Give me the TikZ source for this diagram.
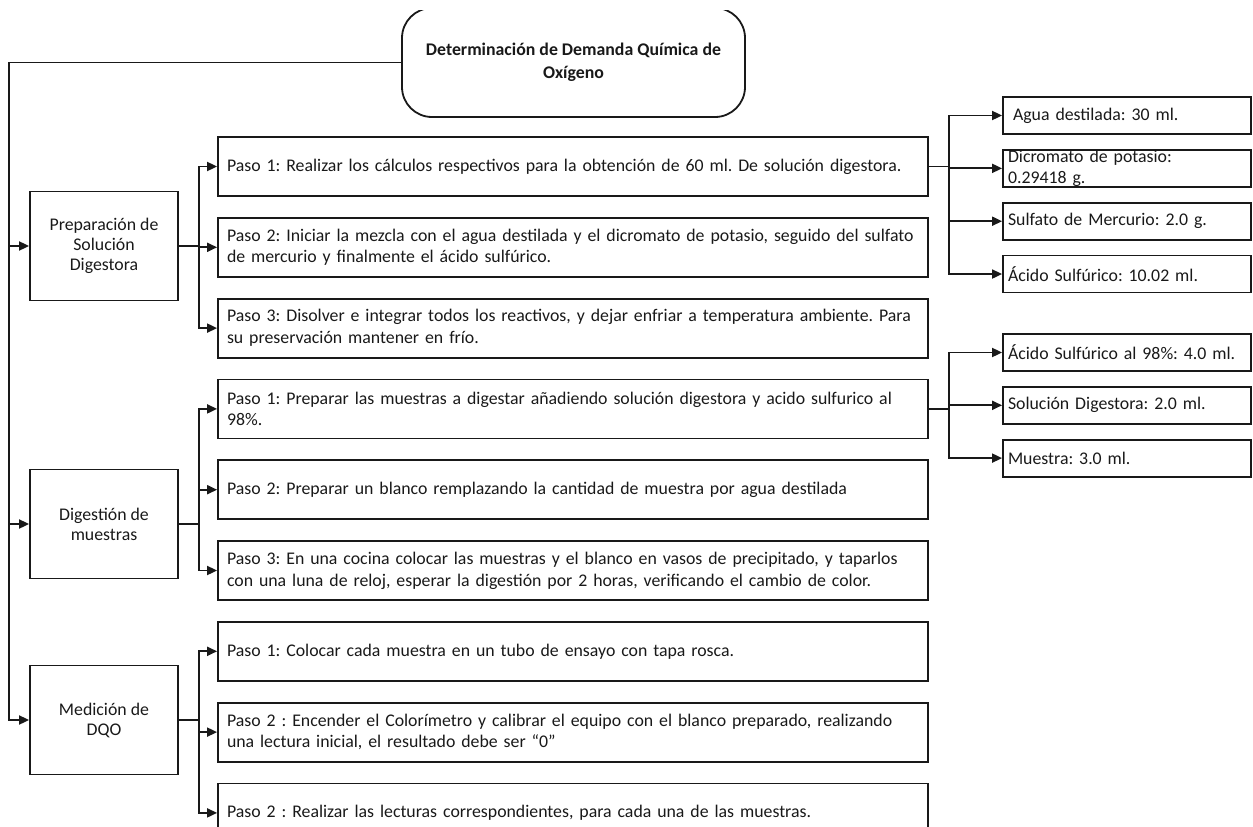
\documentclass[tikz,border=0pt]{standalone}
\usepackage{fontspec}
\setmainfont{Carlito}
\usepackage{tikz}
\usetikzlibrary{positioning}
\usetikzlibrary{arrows.meta}
\frenchspacing
\tikzset{
	caja/.style={
			draw=black!90, line width=1.8pt, text=black!90,
			font=\fontsize{17.8pt}{21.7pt}\selectfont
		},
	raiz/.style={caja, rounded corners=30pt, minimum width=343pt, minimum height=109pt,
			align=center, font=\bfseries\fontsize{17.8pt}{22.5pt}\selectfont},
	grupo/.style={caja, minimum width=148pt, minimum height=109pt, align=center,
			font=\fontsize{17.8pt}{20pt}\selectfont},
	paso/.style={caja, text width=692pt, inner xsep=9pt, inner ysep=0pt,
			minimum height=59pt, align=left},
	dato/.style={caja, text width=238pt, inner xsep=5pt, inner ysep=0pt,
			minimum height=37pt, align=left}
}

\begin{document}
\begin{tikzpicture}[x=1pt,y=-1pt]
    \tikzstyle{flecha}=[draw=black!90,line width=1.8pt,-{Triangle[length=10pt,width=9pt]}]
  \useasboundingbox (0,0) rectangle (1253,827);
  \clip (0,10.5) rectangle (1253,827);

  \node[raiz] (titulo) at (573.5,62.5) {Determinación de Demanda Química de\\Oxígeno};

  \node[grupo] (prep) at (104,246) {Preparación de\\Solución\\Digestora};
  \node[grupo] (dig) at (104,524) {Digestión de\\muestras};
  \node[grupo] (med) at (104,720) {Medición de\\DQO};

  \node[paso] (p11) at (573,166.5) {Paso 1: Realizar los cálculos respectivos para la obtención de 60 ml. De solución digestora.};
  \node[paso, below=20pt of p11] (p12) {Paso 2: Iniciar la mezcla con el agua destilada y el dicromato de potasio, seguido del sulfato\\de mercurio y finalmente el ácido sulfúrico.};
  \node[paso, below=20pt of p12] (p13) {Paso 3: Disolver e integrar todos los reactivos, y dejar enfriar a temperatura ambiente. Para\\su preservación mantener en frío.};
  \node[paso, below=20pt of p13] (p21) {Paso 1: Preparar las muestras a digestar añadiendo solución digestora y acido sulfurico al\\98\%.};
  \node[paso, below=20pt of p21] (p22) {Paso 2: Preparar un blanco remplazando la cantidad de muestra por agua destilada};
  \node[paso, below=20pt of p22] (p23) {Paso 3: En una cocina colocar las muestras y el blanco en vasos de precipitado, y taparlos\\con una luna de reloj, esperar la digestión por 2 horas, verificando el cambio de color.};
  \node[paso, below=20pt of p23] (p31) {Paso 1: Colocar cada muestra en un tubo de ensayo con tapa rosca.};
  \node[paso, below=20pt of p31] (p32) {Paso 2 : Encender el Colorímetro y calibrar el equipo con el blanco preparado, realizando\\una lectura inicial, el resultado debe ser “0”};
  \node[paso, below=20pt of p32] (p33) {Paso 2 : Realizar las lecturas correspondientes, para cada una de las muestras.};

  \node[dato] (a1) at (1127,115.5) {\hspace*{5pt}Agua destilada: 30 ml.};
  \node[dato, below=14pt of a1] (a2) {Dicromato de potasio:\\0.29418 g.};
  \node[dato, below=14pt of a2] (a3) {Sulfato de Mercurio: 2.0 g.};
  \node[dato, below=14pt of a3] (a4) {Ácido Sulfúrico: 10.02 ml.};

  \node[dato] (b1) at (1127,352.5) {Ácido Sulfúrico al 98\%: 4.0 ml.};
  \node[dato, below=14pt of b1] (b2) {Solución Digestora: 2.0 ml.};
  \node[dato, below=14pt of b2] (b3) {Muestra: 3.0 ml.};

  \draw[flecha] (titulo.west) -| ([xshift=-20pt]med.west) -- (med.west);
  \draw[flecha] ([xshift=-20pt]prep.west) -- (prep.west);
  \draw[flecha] ([xshift=-20pt]dig.west) -- (dig.west);

  \foreach \g/\p in {prep/p11,prep/p12,prep/p13,dig/p21,dig/p22,dig/p23,med/p31,med/p32,med/p33}
    \draw[flecha] (\g.east) -- ++(20,0) |- (\p.west);
  \foreach \a in {a1,a2,a3,a4}
    \draw[flecha] (p11.east) -- ++(20,0) |- (\a.west);
  \foreach \b in {b1,b2,b3}
    \draw[flecha] (p21.east) -- ++(20,0) |- (\b.west);
\end{tikzpicture}
\end{document}
